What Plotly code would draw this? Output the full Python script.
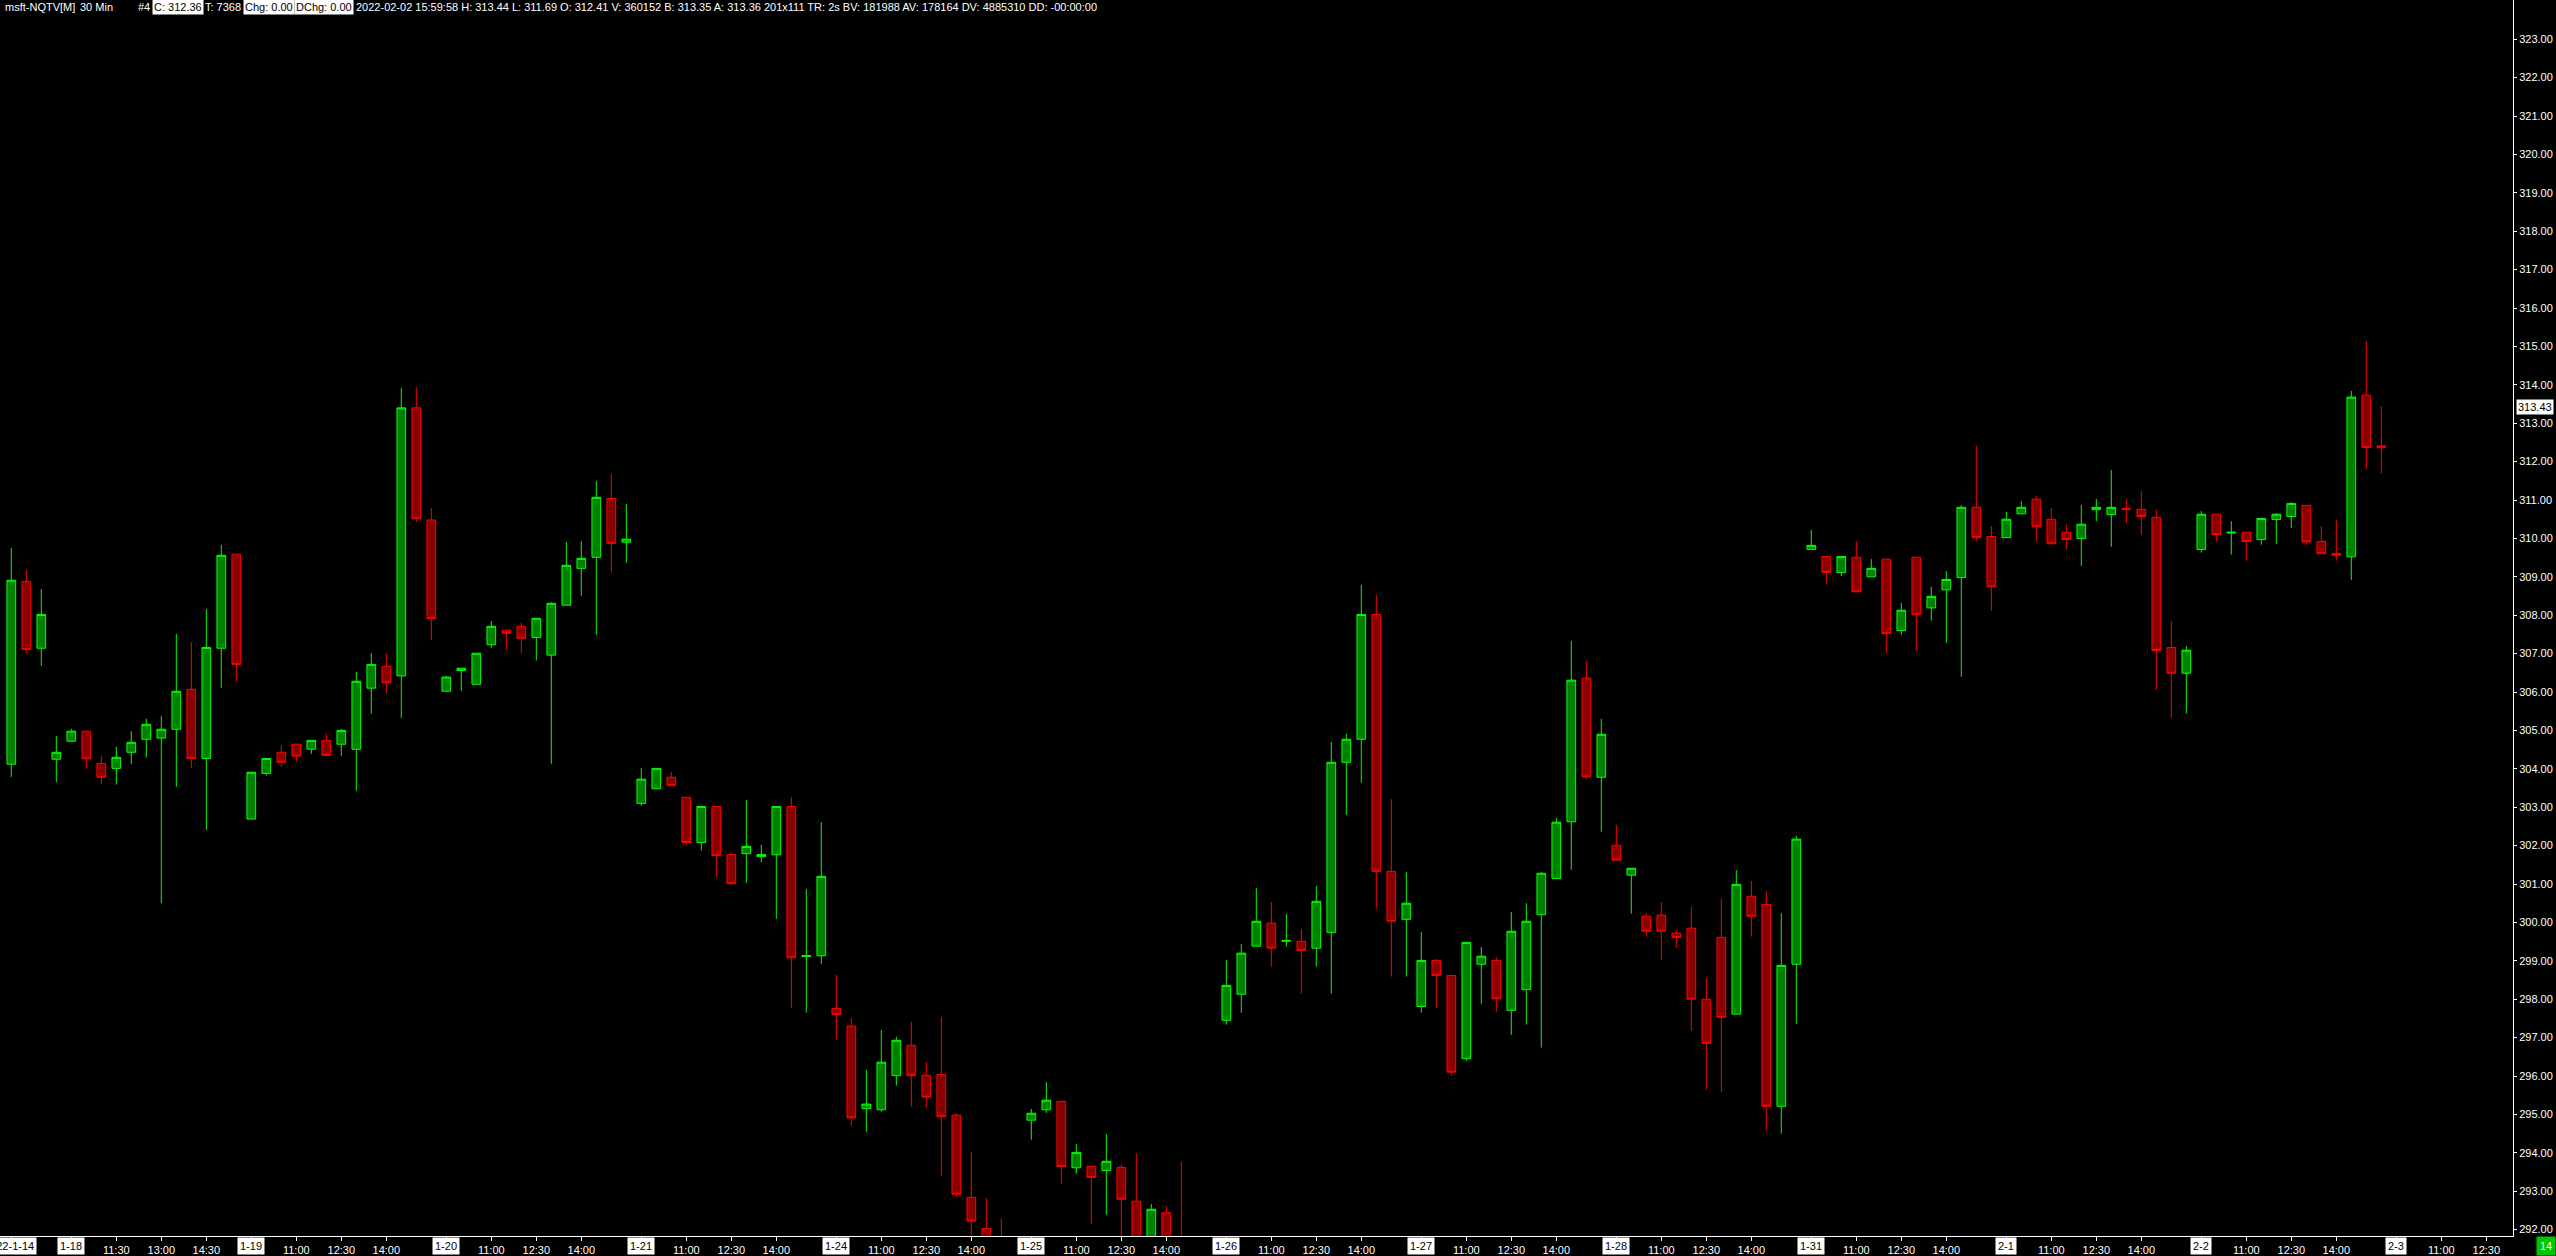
import plotly.graph_objects as go

# ---------------- data ----------------
SESSION = ["09:30", "10:00", "10:30", "11:00", "11:30", "12:00", "12:30",
           "13:00", "13:30", "14:00", "14:30", "15:00", "15:30"]
FIRST_DAY_TIMES = ["14:30", "15:00", "15:30"]
days = ["2022-01-14", "2022-01-18", "2022-01-19", "2022-01-20", "2022-01-21",
        "2022-01-24", "2022-01-25", "2022-01-26", "2022-01-27", "2022-01-28",
        "2022-01-31", "2022-02-01", "2022-02-02", "2022-02-03"]

opens = [304.12, 308.88, 307.14, 304.25, 304.72, 304.98, 304.14, 304.01, 304.43, 304.77,
         304.80, 305.03, 306.07, 304.27, 307.14, 309.59, 302.69, 303.88, 304.43, 304.64,
         304.51, 304.74, 304.64, 304.51, 306.10, 306.67, 306.42, 313.40, 310.48, 306.02,
         306.56, 306.20, 307.23, 307.61, 307.71, 307.42, 306.96, 308.26, 309.22, 309.51,
         311.04, 309.90, 303.10, 303.48, 303.78, 303.26, 302.08, 303.02, 301.77, 301.79,
         301.71, 301.76, 303.02, 299.11, 299.13, 297.76, 297.30, 295.15, 295.12, 296.01,
         296.80, 296.02, 296.04, 294.98, 292.84, 292.03, 291.60, 291.20, 294.85, 295.12,
         295.34, 293.61, 293.65, 293.54, 293.62, 292.74, 291.70, 292.44, 291.70, 291.50,
         291.30, 297.45, 298.13, 299.38, 299.98, 299.51, 299.51, 299.33, 299.74, 304.17,
         304.77, 308.02, 301.33, 300.08, 297.81, 299.01, 298.62, 296.45, 298.91, 299.01,
         297.71, 298.25, 300.20, 301.14, 302.62, 306.36, 303.78, 302.01, 301.23, 300.16,
         300.19, 299.72, 299.85, 298.00, 299.61, 297.61, 300.68, 300.47, 295.21, 298.91,
         309.71, 309.53, 309.11, 309.51, 309.00, 309.46, 307.60, 309.51, 308.19, 308.66,
         308.98, 310.81, 310.05, 310.02, 310.64, 311.02, 310.50, 310.16, 310.00, 310.75,
         310.62, 310.78, 310.76, 310.55, 307.16, 306.49, 309.71, 310.63, 310.14, 310.16,
         309.97, 310.49, 310.57, 310.86, 309.92, 309.61, 309.52, 313.73, 312.41]
highs = [309.75, 309.18, 308.68, 304.85, 305.04, 304.98, 304.33, 304.57, 304.98, 305.30,
         305.37, 307.51, 307.30, 308.16, 309.83, 309.59, 303.91, 304.27, 304.62, 304.64,
         304.74, 304.91, 305.04, 306.52, 307.01, 307.01, 313.92, 313.94, 310.79, 306.42,
         306.62, 307.01, 307.85, 307.61, 307.80, 307.92, 308.34, 309.91, 309.93, 311.49,
         311.68, 310.90, 304.02, 304.01, 303.92, 303.26, 303.02, 303.02, 301.83, 303.19,
         302.02, 303.02, 303.27, 300.87, 302.61, 298.63, 297.51, 296.16, 297.20, 297.02,
         297.41, 296.36, 297.54, 295.03, 294.02, 292.82, 292.28, 291.70, 295.14, 295.84,
         295.34, 294.23, 293.65, 294.49, 293.70, 293.99, 292.67, 292.61, 293.76, 291.80,
         291.70, 299.02, 299.44, 300.90, 300.53, 300.22, 299.83, 300.95, 304.70, 304.91,
         308.79, 308.53, 303.21, 301.31, 299.75, 299.05, 298.62, 299.48, 299.36, 299.10,
         300.27, 300.50, 301.31, 302.72, 307.33, 306.81, 305.30, 302.54, 301.41, 300.24,
         300.53, 299.80, 300.40, 298.55, 300.61, 301.36, 301.08, 300.82, 300.24, 302.25,
         310.22, 309.53, 309.53, 309.93, 309.46, 309.46, 308.32, 309.51, 308.74, 309.15,
         310.87, 312.41, 310.32, 310.69, 310.97, 311.10, 310.79, 310.37, 310.87, 311.03,
         311.78, 311.03, 311.23, 310.76, 307.85, 307.20, 310.71, 310.63, 310.45, 310.16,
         310.52, 310.66, 310.95, 310.86, 310.32, 310.48, 313.84, 315.14, 313.44]
lows = [303.79, 307.00, 306.68, 303.66, 304.72, 304.00, 303.59, 303.59, 304.13, 304.29,
        300.50, 303.53, 304.03, 302.41, 306.11, 306.29, 302.69, 303.82, 304.05, 304.19,
        304.39, 304.35, 304.34, 303.43, 305.44, 305.96, 305.33, 310.43, 307.35, 306.02,
        306.03, 306.20, 307.15, 307.10, 307.02, 306.82, 304.13, 308.26, 308.51, 307.49,
        309.11, 309.37, 303.04, 303.48, 303.56, 302.00, 301.87, 301.18, 300.97, 301.03,
        301.57, 300.09, 297.78, 297.65, 298.92, 296.95, 294.70, 294.55, 295.07, 295.75,
        295.20, 295.18, 293.38, 292.85, 291.70, 291.20, 290.90, 290.60, 294.34, 295.04,
        293.20, 293.46, 292.15, 292.39, 291.60, 291.40, 291.50, 291.40, 291.20, 290.90,
        290.80, 297.34, 297.65, 299.38, 298.85, 299.37, 298.15, 298.85, 298.15, 302.80,
        303.64, 300.36, 298.59, 298.59, 297.65, 297.78, 296.00, 296.40, 297.88, 297.67,
        297.07, 297.34, 296.74, 301.14, 301.37, 303.73, 302.36, 301.62, 300.23, 299.63,
        299.03, 299.34, 297.18, 295.65, 295.59, 297.61, 299.63, 294.58, 294.50, 297.36,
        309.71, 308.81, 309.02, 308.61, 309.00, 307.02, 307.49, 307.07, 307.86, 307.28,
        306.40, 309.93, 308.11, 310.02, 310.64, 309.93, 309.86, 309.72, 309.28, 310.45,
        309.78, 310.40, 310.09, 306.06, 305.33, 305.44, 309.63, 309.93, 309.58, 309.42,
        309.84, 309.86, 310.27, 309.83, 309.60, 309.42, 308.92, 311.81, 311.69]
closes = [308.91, 307.11, 308.02, 304.43, 304.98, 304.26, 303.78, 304.30, 304.69, 305.16,
          305.03, 306.02, 304.27, 307.16, 309.56, 306.72, 303.91, 304.27, 304.17, 304.33,
          304.74, 304.35, 305.00, 306.28, 306.72, 306.24, 313.40, 310.51, 307.91, 306.39,
          306.62, 307.01, 307.71, 307.53, 307.40, 307.92, 308.31, 309.30, 309.48, 311.07,
          309.87, 309.98, 303.73, 304.01, 303.56, 302.08, 303.02, 301.74, 301.01, 301.98,
          301.77, 303.02, 299.08, 299.14, 301.20, 297.60, 294.91, 295.27, 296.36, 296.93,
          296.01, 295.45, 294.94, 292.92, 292.22, 291.50, 291.20, 291.50, 295.03, 295.37,
          293.64, 294.01, 293.36, 293.78, 292.79, 291.70, 292.53, 291.60, 291.50, 291.30,
          291.20, 298.36, 299.20, 300.03, 299.33, 299.53, 299.27, 300.55, 304.17, 304.77,
          308.02, 301.33, 300.03, 300.50, 299.01, 298.62, 296.10, 299.48, 299.12, 298.01,
          299.77, 300.03, 301.28, 302.61, 306.31, 303.79, 304.90, 301.62, 301.41, 299.77,
          299.77, 299.61, 298.00, 296.85, 297.53, 300.99, 300.16, 295.21, 298.88, 302.17,
          309.82, 309.11, 309.53, 308.61, 309.22, 307.52, 308.13, 308.01, 308.49, 308.93,
          310.81, 310.02, 308.74, 310.50, 310.81, 310.30, 309.86, 309.97, 310.37, 310.81,
          310.81, 310.76, 310.57, 307.08, 306.49, 307.09, 310.63, 310.10, 310.16, 309.92,
          310.52, 310.63, 310.91, 309.91, 309.60, 309.56, 313.68, 312.37, 312.36]

price_ticks = list(range(292, 324))
last_marker_price = 313.43

header_pieces = [
    ("msft-NQTV[M]", False), ("30 Min", False), ("#4", False),
    ("C: 312.36", True), ("T: 7368", False), ("Chg: 0.00", True), ("DChg: 0.00", True),
    ("2022-02-02 15:59:58 H: 313.44 L: 311.69 O: 312.41 V: 360152 B: 313.35 A: 313.36 "
     "201x111 TR: 2s BV: 181988 AV: 178164 DV: 4885310 DD: -00:00:00", False),
]
header_x_px = [3, 78, 136, 152, 203, 243, 294, 354]

# ---------------- axis slots ----------------
slots = [f"{days[0]} {t}" for t in FIRST_DAY_TIMES]
for d in days[1:]:
    slots += [f"{d} {t}" for t in SESSION]
x = list(range(len(opens)))


def short(d):
    y, m, dd = d.split("-")
    return f"{int(m)}-{int(dd)}"


date_ticks = [(slots.index(f"{days[0]} 14:30"), "2022-1-14"),
              (slots.index(f"{days[1]} 10:00"), "1-18")]
time_ticks = [(slots.index(f"{days[1]} {t}"), t) for t in ["11:30", "13:00", "14:30"]]
for d in days[2:]:
    date_ticks.append((slots.index(f"{d} 09:30"), short(d)))
    for t in ["11:00", "12:30", "14:00"]:
        time_ticks.append((slots.index(f"{d} {t}"), t))

# ---------------- geometry ----------------
W, H = 2556, 1256
ML, MR, MT, MB = 0, 43, 0, 20
PW, PH = W - ML - MR, H - MT - MB
BAR_PX = 15.0
FIRST_BAR_PX = 11.3
PX_PER_DOLLAR = 38.4
y_top = 324.021
x_range = [-FIRST_BAR_PX / BAR_PX, (PW - FIRST_BAR_PX) / BAR_PX]
y_range = [y_top - PH / PX_PER_DOLLAR, y_top]

FONT = "Liberation Sans, Arial, sans-serif"
FS = 11

fig = go.Figure()
fig.add_trace(go.Candlestick(
    x=x, open=opens, high=highs, low=lows, close=closes,
    increasing=dict(line=dict(color="#00ff00", width=1), fillcolor="#008000"),
    decreasing=dict(line=dict(color="#ff0000", width=1), fillcolor="#880000"),
    whiskerwidth=0, hoverinfo="skip", showlegend=False,
))

annotations = []
# date labels on x axis (black text on white)
for b, txt in date_ticks:
    a = dict(x=b, xref="x", y=-10 / PH, yref="paper", text=txt, showarrow=False,
             xanchor="center", yanchor="middle", bgcolor="#ffffff", borderpad=2,
             font=dict(family=FONT, size=FS, color="#000000"))
    if b == 0:
        a.update(xref="paper", x=37 / PW, xanchor="right")
    annotations.append(a)

# header
for (txt, boxed), px in zip(header_pieces, header_x_px):
    annotations.append(dict(
        x=px / PW, xref="paper", y=1 - 7 / PH, yref="paper", text=txt,
        showarrow=False, xanchor="left", yanchor="middle",
        bgcolor="#ffffff" if boxed else "rgba(0,0,0,0)", borderpad=1,
        font=dict(family=FONT, size=FS, color="#000000" if boxed else "#ffffff")))

# last price marker
annotations.append(dict(x=1 + 3 / PW, xref="paper", y=last_marker_price, yref="y",
                        text=f"{last_marker_price:.2f}", showarrow=False,
                        xanchor="left", yanchor="middle", bgcolor="#ffffff", borderpad=1,
                        font=dict(family=FONT, size=FS, color="#000000")))
# bar counter box
annotations.append(dict(x=1 + 33 / PW, xref="paper", y=-10 / PH, yref="paper",
                        text="14", showarrow=False, xanchor="center", yanchor="middle",
                        bgcolor="#00c800", borderpad=3,
                        font=dict(family=FONT, size=FS, color="#ffffff")))

tickvals = [b for b, _ in date_ticks] + [b for b, _ in time_ticks] + [162, 165]
ticktext = ["" for _ in date_ticks] + [t for _, t in time_ticks] + ["11:00", "12:30"]

fig.update_layout(
    width=W, height=H, margin=dict(l=ML, r=MR, t=MT, b=MB, pad=0),
    paper_bgcolor="#000000", plot_bgcolor="#000000",
    boxgap=0.42, boxgroupgap=0.0,
    annotations=annotations,
    xaxis=dict(range=x_range, rangeslider=dict(visible=False), showgrid=False,
               zeroline=False, showline=True, linecolor="#ffffff", linewidth=1,
               ticks="outside", ticklen=4, tickcolor="#ffffff", tickwidth=1,
               tickvals=tickvals, ticktext=ticktext,
               tickfont=dict(family=FONT, size=FS, color="#ffffff"), fixedrange=True),
    yaxis=dict(side="right", range=y_range, showgrid=False, zeroline=False,
               showline=True, linecolor="#ffffff", linewidth=1,
               ticks="outside", ticklen=3, tickcolor="#ffffff", tickwidth=1,
               tickvals=price_ticks, ticktext=[f"{p:.2f}" for p in price_ticks],
               tickfont=dict(family=FONT, size=FS, color="#ffffff"), fixedrange=True),
)

fig.write_html("out.html",
               config={"displayModeBar": False},
               post_script="document.body.style.margin='0px';"
                           "document.body.style.background='#000000';")
